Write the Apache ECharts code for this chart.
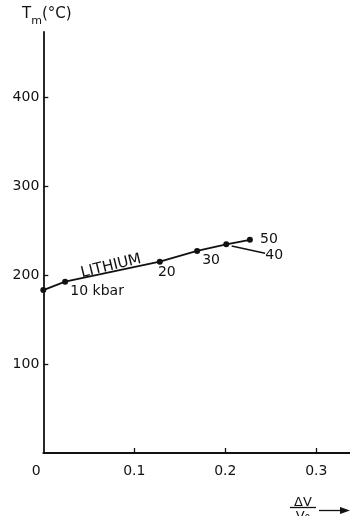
<!DOCTYPE html>
<html>
<head>
<meta charset="utf-8">
<script src="https://cdn.jsdelivr.net/npm/echarts@6/dist/echarts.min.js"></script>
<style>
  html, body { margin: 0; padding: 0; background: #fff; }
  #chart { width: 350px; height: 516px; }
</style>
</head>
<body>
<div id="chart"></div>
<script>
// Melting temperature of lithium versus relative volume change
const dV = [0, 0.024, 0.128, 0.169, 0.201, 0.227];
const tm = [183, 192.5, 215, 227, 234.5, 239.5];
const pressure = ['', '10 kbar', '20', '30', '40', '50'];
const xTicks = [0, 0.1, 0.2, 0.3];
const yTicks = [0, 100, 200, 300, 400];
const xLabels = ['0', '0.1', '0.2', '0.3'];
const yLabels = ['100', '200', '300', '400'];
const leader40 = [[0.207, 232.6], [0.2436, 224.4]];
const seriesName = 'LITHIUM';
const lithiumAt = [0.0745, 210];

// label placement (px offsets from each point)
const labelOffsets = [[0, 0], [32, 10], [7, 11], [14, 9], [48, 11], [19, 0]];

const INK = '#111';
const FONT = 'DejaVu Sans';

const chart = echarts.init(document.getElementById('chart'));

const points = dV.map((x, i) => ({
  value: [x, tm[i]],
  label: {
    show: pressure[i] !== '',
    formatter: pressure[i],
    position: 'inside',
    align: 'center',
    verticalAlign: 'middle',
    offset: labelOffsets[i]
  }
}));

chart.setOption({
  animation: false,
  backgroundColor: '#fff',
  grid: { left: 43.3, right: 0, top: 32, bottom: 63, outerBoundsMode: 'none' },
  xAxis: {
    type: 'value', min: 0, max: 0.337,
    splitLine: { show: false },
    axisLine: { lineStyle: { color: INK, width: 1.8 } },
    axisTick: { inside: true, length: 5, lineStyle: { color: INK, width: 1.3 }, customValues: xTicks.slice(1) },
    axisLabel: {
      customValues: xTicks,
      margin: 11,
      color: INK, fontFamily: FONT, fontSize: 14,
      formatter: v => {
        const i = xTicks.findIndex(t => Math.abs(t - v) < 1e-9);
        const s = i >= 0 ? xLabels[i] : '';
        return v === 0 ? '{z|' + s + '}' : s;
      },
      rich: { z: { fontFamily: FONT, fontSize: 14, color: INK, padding: [0, 14, 0, 0] } }
    }
  },
  yAxis: {
    type: 'value', min: 0, max: 473,
    splitLine: { show: false },
    axisLine: { lineStyle: { color: INK, width: 1.8 } },
    axisTick: { inside: true, length: 5, lineStyle: { color: INK, width: 1.3 }, customValues: yTicks.slice(1) },
    axisLabel: {
      customValues: yTicks.slice(1),
      margin: 4,
      color: INK, fontFamily: FONT, fontSize: 14,
      formatter: v => yLabels[yTicks.slice(1).indexOf(v)] || ''
    }
  },
  series: [
    {
      name: seriesName,
      type: 'line',
      data: points,
      symbol: 'circle',
      symbolSize: 6,
      showAllSymbol: true,
      itemStyle: { color: INK },
      lineStyle: { color: INK, width: 1.8 },
      label: { color: INK, fontFamily: FONT, fontSize: 14 },
      z: 3
    },
    {
      type: 'line',
      data: leader40,
      symbol: 'none',
      lineStyle: { color: INK, width: 1.4 },
      silent: true
    }
  ]
});

// series name written along the curve, plus axis titles
const c = chart.convertToPixel({ gridIndex: 0 }, lithiumAt);
const p0 = chart.convertToPixel({ gridIndex: 0 }, [dV[0], tm[0]]);
const p1 = chart.convertToPixel({ gridIndex: 0 }, [dV[dV.length - 1], tm[tm.length - 1]]);
const angle = Math.atan2(p0[1] - p1[1], p1[0] - p0[0]);

chart.setOption({
  graphic: [
    {
      type: 'text', x: c[0], y: c[1], rotation: angle,
      style: { text: seriesName, fill: INK, font: '15px "' + FONT + '"', align: 'center', verticalAlign: 'middle' }
    },
    {
      type: 'text', left: 22, top: 7,
      style: {
        text: '{t|T}{s|m}{t|(°C)}',
        rich: {
          t: { fill: INK, font: '15px "' + FONT + '"', verticalAlign: 'top' },
          s: { fill: INK, font: '11px "' + FONT + '"', padding: [9, 0, 0, 0] }
        }
      }
    },
    {
      type: 'group',
      children: [
        { type: 'text', x: 303, y: 496, style: { text: 'ΔV', fill: INK, font: '13px "' + FONT + '"', align: 'center', verticalAlign: 'top' } },
        { type: 'line', shape: { x1: 290, y1: 507.5, x2: 316, y2: 507.5 }, style: { stroke: INK, lineWidth: 1.3 } },
        { type: 'text', x: 303, y: 510, style: { text: '{v|V}{o|0}', rich: { v: { fill: INK, font: '13px "' + FONT + '"' }, o: { fill: INK, font: '9px "' + FONT + '"', padding: [4, 0, 0, 0] } }, align: 'center', verticalAlign: 'top' } },
        { type: 'line', shape: { x1: 319, y1: 510.5, x2: 342, y2: 510.5 }, style: { stroke: INK, lineWidth: 1.3 } },
        { type: 'polygon', shape: { points: [[350, 510.5], [340, 507], [340, 514]] }, style: { fill: INK } }
      ]
    }
  ]
});
</script>
</body>
</html>
